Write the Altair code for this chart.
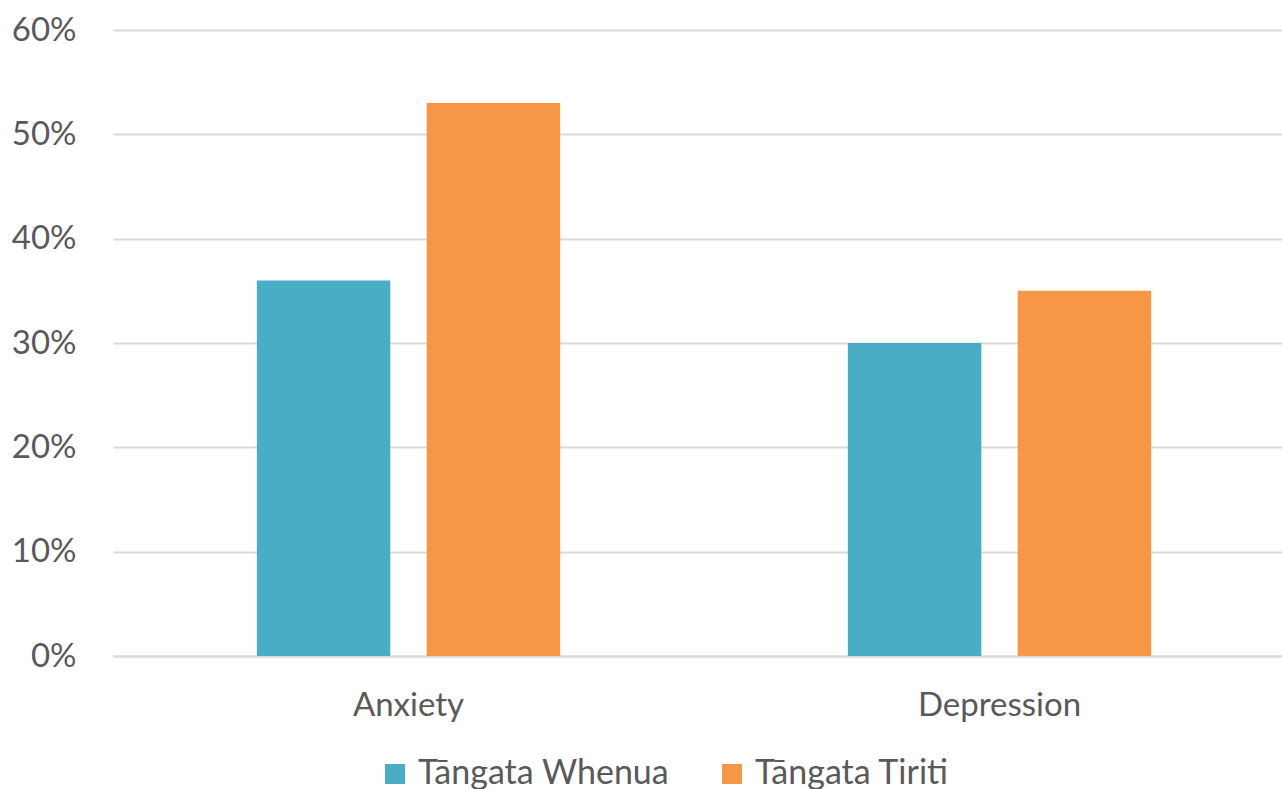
import altair as alt
import pandas as pd

categories = ["Anxiety", "Depression"]
groups = ["Tāngata Whenua", "Tāngata Tiriti"]
whenua = [0.36, 0.30]
tiriti = [0.53, 0.35]

rows = []
for i, c in enumerate(categories):
    rows.append({"cat": c, "group": groups[0], "value": whenua[i]})
    rows.append({"cat": c, "group": groups[1], "value": tiriti[i]})
df = pd.DataFrame(rows)

font = "Lato"
gray = "#595959"

chart = alt.Chart(df).mark_bar().encode(
    x=alt.X("cat:N", sort=categories, title=None,
            scale=alt.Scale(paddingInner=0, paddingOuter=0, range=[0, 1182]),
            axis=alt.Axis(labelAngle=0, labelFont=font, labelFontSize=33, labelColor=gray,
                          ticks=False, domainColor="#d9d9d9", domainWidth=2, labelPadding=33,
                          grid=False)),
    xOffset=alt.XOffset("group:N", sort=groups,
                        scale=alt.Scale(paddingInner=0.214, paddingOuter=0.847)),
    y=alt.Y("value:Q", title=None,
            scale=alt.Scale(domain=[0, 0.6], nice=False),
            axis=alt.Axis(format=".0%", values=[0, 0.1, 0.2, 0.3, 0.4, 0.5, 0.6],
                          labelFont=font, labelFontSize=33, labelColor=gray,
                          ticks=False, domain=False, labelPadding=37,
                          gridColor="#d9d9d9", gridWidth=2)),
    color=alt.Color("group:N", sort=groups,
                    scale=alt.Scale(domain=groups, range=["#4BACC6", "#F79646"]),
                    legend=alt.Legend(title=None, orient="none", direction="horizontal",
                                      legendX=265, legendY=727, padding=0,
                                      labelFont=font, labelFontSize=34, labelColor=gray,
                                      labelLimit=400,
                                      symbolType="square", symbolSize=400, symbolStrokeWidth=0,
                                      columnPadding=45, labelOffset=6)),
).properties(
    width=1169, height=626,
    padding={"left": 113, "top": 30, "right": 0, "bottom": 133},
    autosize=alt.AutoSizeParams(type="none"),
    background="white",
).configure_view(stroke=None)

chart.save("out.html", embed_options={"renderer": "svg", "actions": False})
